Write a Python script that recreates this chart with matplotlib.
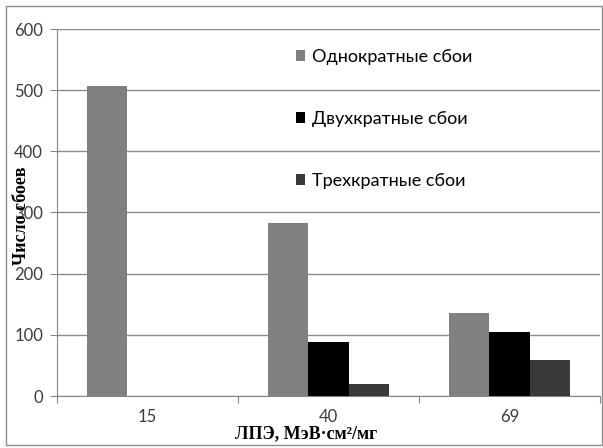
import numpy as np
import matplotlib.pyplot as plt
from matplotlib.patches import Rectangle

categories = ["15", "40", "69"]
single = [507, 283, 136]
double = [0, 88, 105]
triple = [0, 20, 59]
series_names = ["Однократные сбои", "Двухкратные сбои", "Трехкратные сбои"]
colors = ["#808080", "#000000", "#3a3a3a"]

plt.rcParams['font.family'] = ['Lato', 'DejaVu Sans']

fig = plt.figure(figsize=(6.03, 4.48), dpi=100)
ax = fig.add_axes([57/603, 52/448, 543/603, 367/448])

x = np.arange(len(categories))
w = 1/4.5
for i, (vals, name, c) in enumerate(zip([single, double, triple], series_names, colors)):
    ax.bar(x + (i - 1)*w, vals, width=w, color=c, label=name, zorder=3)

ax.set_xlim(-0.5, 2.5)
ax.set_ylim(0, 600)
ax.set_yticks(range(0, 601, 100))
ax.set_xticks([-0.5, 0.5, 1.5, 2.5])
ax.set_xticklabels([])
ax.set_xticks(x, minor=True)
ax.set_xticklabels(categories, minor=True)
ax.tick_params(axis='x', which='minor', length=0, pad=9, labelsize=12, labelcolor='#3c3c3c')
ax.tick_params(axis='x', which='major', length=5, color='#868686')
ax.tick_params(axis='y', length=5, color='#868686', pad=5, labelsize=12, labelcolor='#3c3c3c')
ax.grid(axis='y', color='#8a8a8a', linewidth=1, zorder=0)
for s in ['top', 'right']:
    ax.spines[s].set_visible(False)
for s in ['left', 'bottom']:
    ax.spines[s].set_color('#868686')

ax.set_ylabel("Число сбоев", family='Liberation Serif', fontweight='bold', fontsize=13)
ax.yaxis.set_label_coords(-0.05, 0.49)
ax.set_xlabel("ЛПЭ, МэВ·см²/мг", family='Liberation Serif', fontweight='bold', fontsize=13)
ax.xaxis.set_label_coords(0.459, -0.08)

ax.legend(loc='upper left', bbox_to_anchor=(0.41, 0.99), frameon=False, fontsize=13,
          handlelength=0.5, handleheight=0.5, handletextpad=0.4, labelspacing=2.55)

fig.add_artist(Rectangle((6/603, 3/448), 596/603, 439/448, transform=fig.transFigure,
                         fill=False, edgecolor='#8c8c8c', linewidth=1))

fig.savefig("out.png", dpi=100)
